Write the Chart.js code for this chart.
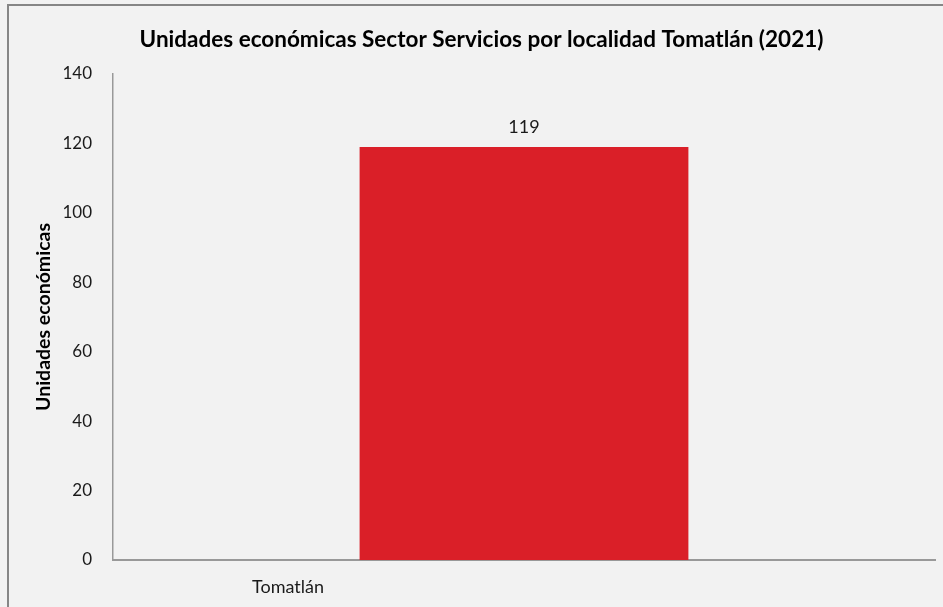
<!DOCTYPE html>
<html>
<head>
<meta charset="utf-8">
<script src="https://cdn.jsdelivr.net/npm/chart.js@4/dist/chart.umd.min.js"></script>
<style>
  html, body { margin: 0; padding: 0; background: #f2f2f2; }
  #wrap { width: 943px; height: 607px; position: relative; }
</style>
</head>
<body>
<div id="wrap"><canvas id="c" width="943" height="607"></canvas></div>
<script>
const chartTitle = 'Unidades económicas Sector Servicios por localidad Tomatlán (2021)';
const yAxisTitle = 'Unidades económicas';
const categories = ['Tomatlán'];
const values = [119];
const yTicks = [0, 20, 40, 60, 80, 100, 120, 140];

const FONT = 'Lato, "Open Sans", sans-serif';

const frame = {
  id: 'frame',
  beforeDraw(chart) {
    const ctx = chart.ctx;
    ctx.save();
    ctx.fillStyle = '#f2f2f2';
    ctx.fillRect(0, 0, chart.width, chart.height);
    ctx.strokeStyle = '#868686';
    ctx.lineWidth = 2;
    ctx.beginPath();
    ctx.moveTo(8, chart.height + 5);
    ctx.lineTo(8, 5);
    ctx.lineTo(chart.width + 5, 5);
    ctx.stroke();
    ctx.restore();
  }
};

const valueLabels = {
  id: 'valueLabels',
  afterDatasetsDraw(chart) {
    const ctx = chart.ctx;
    const meta = chart.getDatasetMeta(0);
    ctx.save();
    ctx.font = '18px ' + FONT;
    ctx.fillStyle = '#1a1a1a';
    ctx.textAlign = 'center';
    ctx.textBaseline = 'middle';
    meta.data.forEach((el, i) => {
      ctx.fillText(String(values[i]), el.x, el.y - 20);
    });
    ctx.restore();
  }
};

new Chart(document.getElementById('c'), {
  type: 'bar',
  data: {
    labels: categories,
    datasets: [{
      data: values,
      backgroundColor: '#DA1F28',
      borderWidth: 0,
      categoryPercentage: 1,
      barPercentage: 0.4
    }]
  },
  options: {
    responsive: false,
    animation: false,
    devicePixelRatio: 1,
    layout: { padding: { left: 28, right: 8, top: 0, bottom: 0 } },
    plugins: {
      legend: { display: false },
      tooltip: { enabled: false },
      title: {
        display: true,
        text: chartTitle,
        color: '#000',
        font: { family: FONT, size: 22.5, weight: 'bold', lineHeight: 1.2 },
        padding: { top: 26, bottom: 21 }
      }
    },
    scales: {
      x: {
        offset: true,
        grid: { display: false, drawTicks: false },
        border: { display: true, color: '#999999', width: 2 },
        ticks: {
          color: '#1a1a1a',
          font: { family: FONT, size: 18 },
          padding: 16,
          labelOffset: -236,
          maxRotation: 0
        },
        afterFit(s) { s.height = 47; }
      },
      y: {
        min: 0,
        max: 140,
        afterBuildTicks(s) { s.ticks = yTicks.map(v => ({ value: v })); },
        grid: { display: false, drawTicks: false },
        border: { display: true, color: '#999999', width: 1.5 },
        ticks: {
          color: '#1a1a1a',
          font: { family: FONT, size: 17 },
          padding: 21
        },
        title: {
          display: true,
          text: yAxisTitle,
          color: '#000',
          font: { family: FONT, size: 19.5, weight: 'bold', lineHeight: 1.2 },
          padding: 4
        },
        afterFit(s) { s.width = 113 - 28; }
      }
    }
  },
  plugins: [frame, valueLabels]
});
</script>
</body>
</html>
